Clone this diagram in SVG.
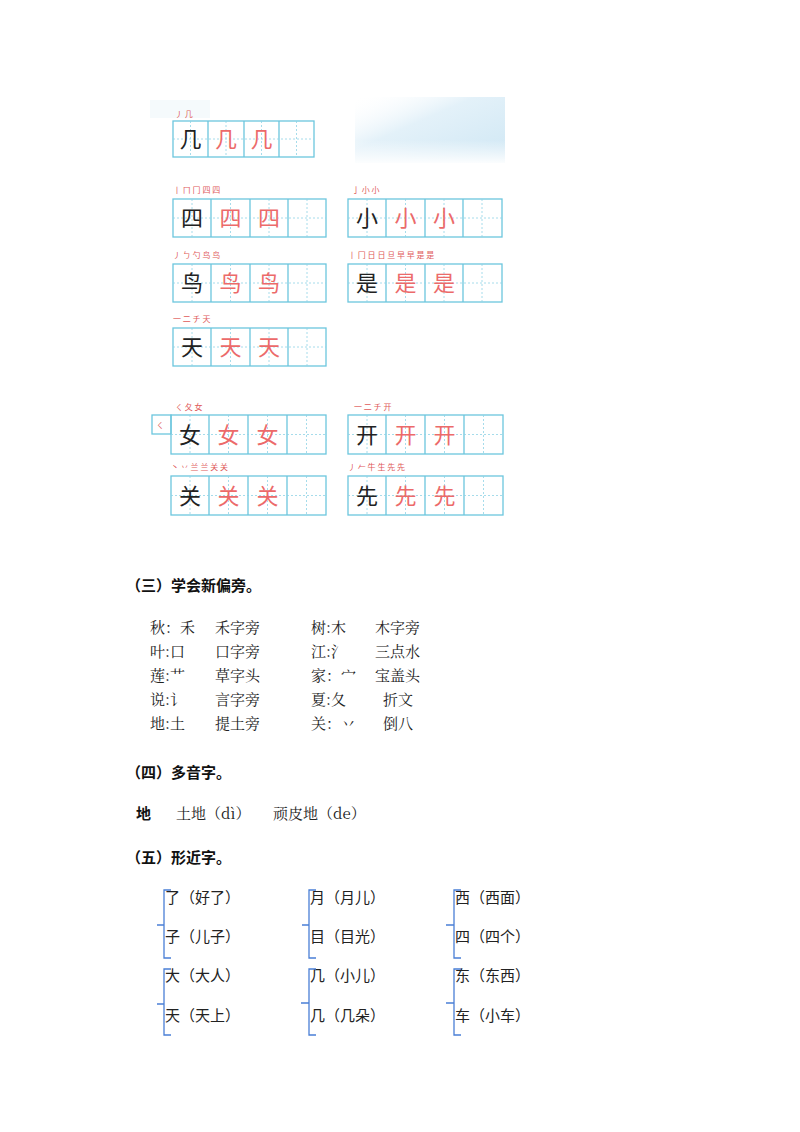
<svg xmlns="http://www.w3.org/2000/svg" width="800" height="1132" viewBox="0 0 800 1132">
<style>
text{font-family:"Noto Sans CJK SC","Liberation Sans",sans-serif;}
.s{font-family:"Noto Serif CJK SC","Noto Sans CJK SC",serif;font-size:15px;fill:#222}
.h{font-size:15px;font-weight:bold;fill:#111}
.g{fill:none;stroke:#6cc6de;stroke-width:1.3}
.d{stroke:#8fd3e6;stroke-width:0.8;stroke-dasharray:2 2}
.k{font-size:22px;fill:#222;text-anchor:middle}
.r{font-size:22px;fill:#ec6a6a;text-anchor:middle}
.o{font-size:8px;fill:#e05a5a}
.b{fill:none;stroke:#4a7fd6;stroke-width:1.3}
</style>
<defs>
<linearGradient id="sky" x1="0" y1="0" x2="1" y2="1">
<stop offset="0" stop-color="#ffffff" stop-opacity="0"/>
<stop offset="0.4" stop-color="#e3f1f9"/>
<stop offset="1" stop-color="#cfe7f4"/>
</linearGradient>
<linearGradient id="fade" x1="0" y1="0" x2="0" y2="1">
<stop offset="0" stop-color="#fff" stop-opacity="0"/>
<stop offset="1" stop-color="#fff"/>
</linearGradient>
</defs>
<rect x="355" y="97" width="150" height="66" fill="url(#sky)"/>
<rect x="355" y="140" width="150" height="25" fill="url(#fade)"/>
<rect x="150" y="100" width="60" height="18" fill="#eef6fa" opacity="0.6"/>

<g id="grid-ji">
<text class="o" x="175" y="117">丿 几</text>
<rect class="g" x="173" y="121" width="141" height="36"/>
<path class="g" d="M208 121V157M244 121V157M279 121V157"/>
<path class="d" d="M173 139H314M190.5 121V157M226 121V157M261.5 121V157M296.5 121V157"/>
<text class="k" x="190.5" y="147">几</text><text class="r" x="226" y="147">几</text><text class="r" x="261.5" y="147">几</text>
</g>

<g id="grid-si" transform="translate(173,199)">
<text class="o" x="0" y="-6">丨 ㄇ 冂 四 四</text>
<rect class="g" width="153" height="38"/><path class="g" d="M38 0V38M77 0V38M115 0V38"/>
<path class="d" d="M0 19H153M19 0V38M57.5 0V38M96 0V38M134 0V38"/>
<text class="k" x="19" y="27">四</text><text class="r" x="57.5" y="27">四</text><text class="r" x="96" y="27">四</text>
</g>
<g id="grid-xiao" transform="translate(348,199)">
<text class="o" x="4" y="-6">亅 小 小</text>
<rect class="g" width="154" height="38"/><path class="g" d="M38 0V38M77 0V38M115 0V38"/>
<path class="d" d="M0 19H154M19 0V38M57.5 0V38M96 0V38M134 0V38"/>
<text class="k" x="19" y="27">小</text><text class="r" x="57.5" y="27">小</text><text class="r" x="96" y="27">小</text>
</g>
<g id="grid-niao" transform="translate(173,264)">
<text class="o" x="0" y="-6">丿 ㄅ 勺 鸟 鸟</text>
<rect class="g" width="153" height="38"/><path class="g" d="M38 0V38M77 0V38M115 0V38"/>
<path class="d" d="M0 19H153M19 0V38M57.5 0V38M96 0V38M134 0V38"/>
<text class="k" x="19" y="27">鸟</text><text class="r" x="57.5" y="27">鸟</text><text class="r" x="96" y="27">鸟</text>
</g>
<g id="grid-shi" transform="translate(348,264)">
<text class="o" x="0" y="-6">丨 冂 日 日 旦 早 早 是 是</text>
<rect class="g" width="154" height="38"/><path class="g" d="M38 0V38M77 0V38M115 0V38"/>
<path class="d" d="M0 19H154M19 0V38M57.5 0V38M96 0V38M134 0V38"/>
<text class="k" x="19" y="27">是</text><text class="r" x="57.5" y="27">是</text><text class="r" x="96" y="27">是</text>
</g>
<g id="grid-tian" transform="translate(173,328)">
<text class="o" x="0" y="-6">一 二 チ 天</text>
<rect class="g" width="153" height="38"/><path class="g" d="M38 0V38M77 0V38M115 0V38"/>
<path class="d" d="M0 19H153M19 0V38M57.5 0V38M96 0V38M134 0V38"/>
<text class="k" x="19" y="27">天</text><text class="r" x="57.5" y="27">天</text><text class="r" x="96" y="27">天</text>
</g>
<g id="grid-nv" transform="translate(171,415)">
<text class="o" x="4" y="-5">ㄑ 夂 女</text>
<rect class="g" x="-19" y="0" width="19" height="19"/>
<text class="o" x="-15" y="13">ㄑ</text>
<rect class="g" width="155" height="39"/><path class="g" d="M38 0V39M77 0V39M116 0V39"/>
<path class="d" d="M0 19.5H155M19 0V39M57.5 0V39M96.5 0V39M135.5 0V39"/>
<text class="k" x="19" y="28">女</text><text class="r" x="57.5" y="28">女</text><text class="r" x="96.5" y="28">女</text>
</g>
<g id="grid-kai" transform="translate(348,415)">
<text class="o" x="6" y="-5">一 二 チ 开</text>
<rect class="g" width="155" height="39"/><path class="g" d="M38 0V39M77 0V39M116 0V39"/>
<path class="d" d="M0 19.5H155M19 0V39M57.5 0V39M96.5 0V39M135.5 0V39"/>
<text class="k" x="19" y="28">开</text><text class="r" x="57.5" y="28">开</text><text class="r" x="96.5" y="28">开</text>
</g>
<g id="grid-guan" transform="translate(171,476)">
<text class="o" x="0" y="-6">丶 丷 兰 兰 关 关</text>
<rect class="g" width="155" height="39"/><path class="g" d="M38 0V39M77 0V39M116 0V39"/>
<path class="d" d="M0 19.5H155M19 0V39M57.5 0V39M96.5 0V39M135.5 0V39"/>
<text class="k" x="19" y="28">关</text><text class="r" x="57.5" y="28">关</text><text class="r" x="96.5" y="28">关</text>
</g>
<g id="grid-xian" transform="translate(348,476)">
<text class="o" x="0" y="-6">丿 𠂉 牛 生 先 先</text>
<rect class="g" width="155" height="39"/><path class="g" d="M38 0V39M77 0V39M116 0V39"/>
<path class="d" d="M0 19.5H155M19 0V39M57.5 0V39M96.5 0V39M135.5 0V39"/>
<text class="k" x="19" y="28">先</text><text class="r" x="57.5" y="28">先</text><text class="r" x="96.5" y="28">先</text>
</g>

<g id="sec3">
<text class="h" x="126" y="591">（三）学会新偏旁。</text>
<text class="s" x="150" y="633">秋：禾</text><text class="s" x="215" y="633">禾字旁</text>
<text class="s" x="311" y="633">树:木</text><text class="s" x="375" y="633">木字旁</text>
<text class="s" x="150" y="657">叶:口</text><text class="s" x="215" y="657">口字旁</text>
<text class="s" x="311" y="657">江:氵</text><text class="s" x="375" y="657">三点水</text>
<text class="s" x="150" y="681">莲:艹</text><text class="s" x="215" y="681">草字头</text>
<text class="s" x="311" y="681">家：宀</text><text class="s" x="375" y="681">宝盖头</text>
<text class="s" x="150" y="705">说:讠</text><text class="s" x="215" y="705">言字旁</text>
<text class="s" x="311" y="705">夏:夂</text><text class="s" x="383" y="705">折文</text>
<text class="s" x="150" y="729">地:土</text><text class="s" x="215" y="729">提土旁</text>
<text class="s" x="311" y="729">关：丷</text><text class="s" x="383" y="729">倒八</text>
</g>
<g id="sec4">
<text class="h" x="126" y="778">（四）多音字。</text>
<text class="h" x="136" y="819">地</text>
<text class="s" x="176" y="819">土地（dì）</text>
<text class="s" x="273" y="819">顽皮地（de）</text>
</g>
<g id="sec5">
<text class="h" x="126" y="863">（五）形近字。</text>
<g class="s">
<text x="165" y="903">了（好了）</text><text x="165" y="942">子（儿子）</text>
<text x="165" y="981">大（大人）</text><text x="165" y="1021">天（天上）</text>
<text x="310" y="903">月（月儿）</text><text x="310" y="942">目（目光）</text>
<text x="310" y="981">几（小儿）</text><text x="310" y="1021">几（几朵）</text>
<text x="455" y="903">西（西面）</text><text x="455" y="942">四（四个）</text>
<text x="455" y="981">东（东西）</text><text x="455" y="1021">车（小车）</text>
</g>
</g>
<g id="connectors">
<path class="b" d="M171 890H164V925H157M164 925V958H171"/>
<path class="b" d="M171 969H164V1004H157M164 1004V1035H171"/>
<path class="b" d="M316 890H309V925H302M309 925V958H316"/>
<path class="b" d="M316 969H309V1003H301M309 1003V1035H316"/>
<path class="b" d="M461 890H454V925H446M454 925V958H461"/>
<path class="b" d="M461 969H454V1003H446M454 1003V1035H461"/>
</g>
</svg>
